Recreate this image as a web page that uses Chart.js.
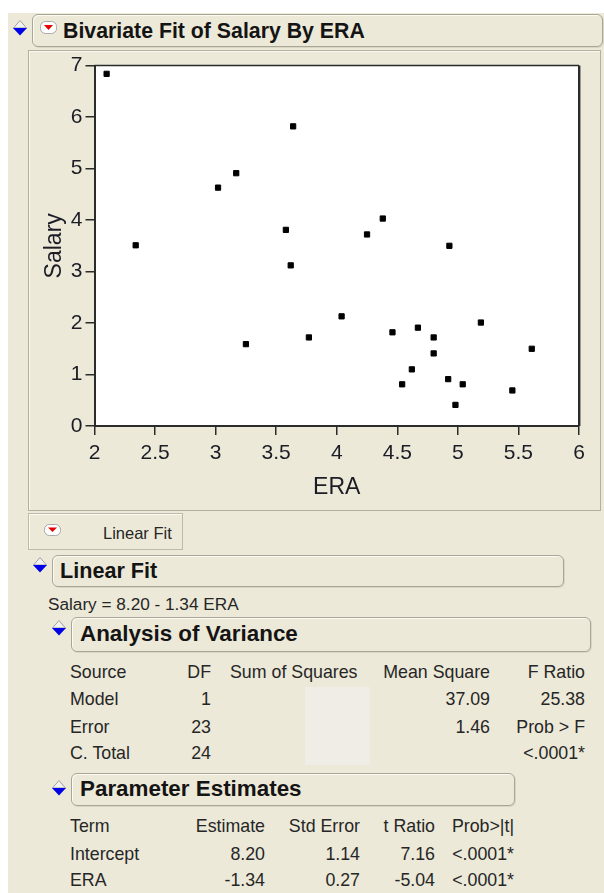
<!DOCTYPE html>
<html>
<head>
<meta charset="utf-8">
<title>Bivariate Fit of Salary By ERA</title>
<script src="https://cdn.jsdelivr.net/npm/chart.js@4.4.0/dist/chart.umd.min.js"></script>
<style>
  html, body { margin: 0; padding: 0; background: #fff; }
  #page { position: relative; width: 604px; height: 893px; overflow: hidden; background: #fff;
          font-family: "Liberation Sans", Arial, sans-serif; color: #262626; }
  #report { position: absolute; left: 8px; top: 13px; width: 596px; height: 880px; background: #ECE9D8; }
  .box { position: absolute; box-sizing: border-box; border: 1px solid #a9a694; border-radius: 6px;
         background: #ECE9D8; box-shadow: inset 1px 1px 0 #fbfaf4, 1px 1px 0 #d9d6c6; }
  .head { position: absolute; font-weight: bold; font-size: 21px; line-height: 24px; color: #141414; white-space: nowrap; }
  .t { position: absolute; font-size: 17.8px; line-height: 20px; white-space: nowrap; }
  .r { text-align: right; }
  .icon { position: absolute; }
  #frame { position: absolute; left: 28px; top: 50px; width: 573px; height: 461px; box-sizing: border-box;
           border: 1px solid #b3b0a0; box-shadow: inset 1px 1px 0 #f8f7f0; }
  #chartWrap { position: absolute; left: 28px; top: 50px; width: 573px; height: 461px; }
  #btn { position: absolute; left: 28px; top: 513px; width: 155px; height: 37px; box-sizing: border-box;
         border: 1px solid #bdbaaa; box-shadow: inset 1px 1px 0 #faf9f2; }
  #blank { position: absolute; left: 305px; top: 687px; width: 65px; height: 78px; background: #efede5; }
</style>
</head>
<body>
<div id="page">
  <div id="report"></div>

  <!-- outline header -->
  <svg class="icon" style="left:13px;top:20px" width="14" height="16" viewBox="0 0 14 16">
    <polygon points="0.5,8 7,0.5 13.5,8" fill="#f2f2f2" stroke="#a0a0a0" stroke-width="1"/>
    <polygon points="0,8 14,8 7,15.5" fill="#0000e6"/>
  </svg>
  <div class="box" style="left:32px;top:14px;width:571px;height:33px"></div>
  <svg class="icon" style="left:40px;top:21px" width="17" height="13" viewBox="0 0 17 13">
    <rect x="0.5" y="0.5" width="16" height="12" rx="5" fill="#fff" stroke="#a8a8a8"/>
    <polygon points="4,4 13,4 8.5,9" fill="#e60000"/>
  </svg>
  <div class="head" style="left:63px;top:19px;font-size:21.3px">Bivariate Fit of Salary By ERA</div>

  <!-- plot frame -->
  <div id="frame"></div>
  <div id="chartWrap"><canvas id="scatterChart" width="573" height="461"></canvas></div>

  <!-- fit button -->
  <div id="btn"></div>
  <svg class="icon" style="left:44px;top:524px" width="17" height="12" viewBox="0 0 17 12">
    <rect x="0.5" y="0.5" width="16" height="11" rx="5" fill="#fff" stroke="#a8a8a8"/>
    <polygon points="4,3.5 13,3.5 8.5,8" fill="#e60000"/>
  </svg>
  <div class="t" style="left:103px;top:523px;font-size:16.5px">Linear Fit</div>

  <!-- Linear Fit -->
  <svg class="icon" style="left:33px;top:557px" width="14" height="16" viewBox="0 0 14 16">
    <polygon points="0.5,8 7,0.5 13.5,8" fill="#f2f2f2" stroke="#a0a0a0" stroke-width="1"/>
    <polygon points="0,8 14,8 7,15.5" fill="#0000e6"/>
  </svg>
  <div class="box" style="left:52px;top:555px;width:512px;height:32px"></div>
  <div class="head" style="left:60px;top:559px;font-size:21.6px">Linear Fit</div>
  <div class="t" style="left:48px;top:594px;font-size:17.2px">Salary = 8.20 - 1.34 ERA</div>

  <!-- Analysis of Variance -->
  <svg class="icon" style="left:52px;top:620px" width="14" height="16" viewBox="0 0 14 16">
    <polygon points="0.5,8 7,0.5 13.5,8" fill="#f2f2f2" stroke="#a0a0a0" stroke-width="1"/>
    <polygon points="0,8 14,8 7,15.5" fill="#0000e6"/>
  </svg>
  <div class="box" style="left:71px;top:617px;width:520px;height:35px"></div>
  <div class="head" style="left:80px;top:622px;font-size:22.4px">Analysis of Variance</div>
  <div id="blank"></div>

  <!-- Parameter Estimates -->
  <svg class="icon" style="left:52px;top:780px" width="14" height="16" viewBox="0 0 14 16">
    <polygon points="0.5,8 7,0.5 13.5,8" fill="#f2f2f2" stroke="#a0a0a0" stroke-width="1"/>
    <polygon points="0,8 14,8 7,15.5" fill="#0000e6"/>
  </svg>
  <div class="box" style="left:71px;top:773px;width:444px;height:33px"></div>
  <div class="head" style="left:80px;top:777px;font-size:22.4px">Parameter Estimates</div>
</div>

<script>
// Scatter data
const era = [2.10, 2.34, 3.02, 3.17, 3.64, 3.58, 4.38, 4.25, 4.93, 3.62, 3.25, 3.77, 4.04,
             4.46, 4.67, 4.80, 4.80, 5.19, 5.61, 4.62, 4.54, 4.92, 5.04, 5.45, 4.98];
const salary = [6.84, 3.51, 4.63, 4.91, 5.82, 3.81, 4.03, 3.72, 3.50, 3.12, 1.59, 1.72, 2.13,
                1.82, 1.91, 1.72, 1.41, 2.01, 1.50, 1.10, 0.81, 0.91, 0.81, 0.69, 0.41];

// Axis ticks
const xTicks = [2, 2.5, 3, 3.5, 4, 4.5, 5, 5.5, 6];
const yTicks = [0, 1, 2, 3, 4, 5, 6, 7];

// Report tables
const anovaHeader = ['Source', 'DF', 'Sum of Squares', 'Mean Square', 'F Ratio'];
const anovaSource = ['Model', 'Error', 'C. Total'];
const anovaDF = ['1', '23', '24'];
const anovaMeanSq = ['37.09', '1.46', ''];
const anovaLast = ['25.38', 'Prob > F', '<.0001*'];

const paramHeader = ['Term', 'Estimate', 'Std Error', 't Ratio', 'Prob>|t|'];
const paramTerm = ['Intercept', 'ERA'];
const paramEstimate = ['8.20', '-1.34'];
const paramStdErr = ['1.14', '0.27'];
const paramTRatio = ['7.16', '-5.04'];
const paramProb = ['<.0001*', '<.0001*'];

// Build tables as real text
function addText(parent, text, x, yCenter, alignRight) {
    const d = document.createElement('div');
    d.className = 't' + (alignRight ? ' r' : '');
    d.textContent = text;
    d.style.top = (yCenter - 10) + 'px';
    if (alignRight) d.style.right = (604 - x) + 'px';
    else d.style.left = x + 'px';
    parent.appendChild(d);
}

const page = document.getElementById('page');
const anovaRows = [672, 699, 727, 753];
addText(page, anovaHeader[0], 70, anovaRows[0], false);
addText(page, anovaHeader[1], 211, anovaRows[0], true);
addText(page, anovaHeader[2], 230, anovaRows[0], false);
addText(page, anovaHeader[3], 490, anovaRows[0], true);
addText(page, anovaHeader[4], 585, anovaRows[0], true);
anovaSource.forEach((s, i) => {
    const y = anovaRows[i + 1];
    addText(page, s, 70, y, false);
    addText(page, anovaDF[i], 211, y, true);
    if (anovaMeanSq[i]) addText(page, anovaMeanSq[i], 490, y, true);
    addText(page, anovaLast[i], 585, y, true);
});

const paramRows = [826, 854, 880];
const paramRight = [265, 360, 435, 514];
addText(page, paramHeader[0], 70, paramRows[0], false);
paramHeader.slice(1).forEach((h, j) => addText(page, h, paramRight[j], paramRows[0], true));
paramTerm.forEach((t, i) => {
    const y = paramRows[i + 1];
    addText(page, t, 70, y, false);
    [paramEstimate, paramStdErr, paramTRatio, paramProb].forEach((col, j) => addText(page, col[i], paramRight[j], y, true));
});

// Plot area background and frame lines
const plotFrame = {
    id: 'plotFrame',
    beforeDraw(chart) {
        const { ctx, chartArea: a } = chart;
        ctx.save();
        ctx.fillStyle = '#ffffff';
        ctx.fillRect(a.left, a.top, a.right - a.left, a.bottom - a.top);
        ctx.restore();
    },
    afterDraw(chart) {
        const { ctx, chartArea: a } = chart;
        ctx.save();
        ctx.strokeStyle = '#2b2b2b';
        ctx.lineWidth = 1.5;
        ctx.beginPath();
        ctx.moveTo(a.left, a.top);
        ctx.lineTo(a.right, a.top);
        ctx.stroke();
        ctx.lineWidth = 2;
        ctx.beginPath();
        ctx.moveTo(a.right, a.top);
        ctx.lineTo(a.right, a.bottom);
        ctx.stroke();
        ctx.strokeStyle = '#9a9a9a';
        ctx.lineWidth = 1;
        ctx.beginPath();
        ctx.moveTo(a.right + 1.5, a.top);
        ctx.lineTo(a.right + 1.5, a.bottom);
        ctx.stroke();
        ctx.restore();
    }
};

const tickColor = '#1c1c26';
const ctx = document.getElementById('scatterChart').getContext('2d');
const scatterChart = new Chart(ctx, {
    type: 'scatter',
    data: {
        datasets: [{
            data: era.map((x, i) => ({ x: x, y: salary[i] })),
            pointStyle: 'rect',
            radius: 3.7,
            borderWidth: 1,
            backgroundColor: '#000',
            borderColor: '#000'
        }]
    },
    options: {
        responsive: false,
        animation: false,
        devicePixelRatio: 1,
        layout: { padding: { left: 0, top: 14, right: 22, bottom: 0 } },
        plugins: { legend: { display: false }, tooltip: { enabled: false } },
        scales: {
            x: {
                type: 'linear',
                min: 2,
                max: 6,
                afterBuildTicks: s => { s.ticks = xTicks.map(v => ({ value: v })); },
                afterFit: s => { s.height = 85; },
                ticks: { color: tickColor, font: { family: 'Liberation Sans', size: 21 }, padding: 6, maxRotation: 0,
                         callback: v => String(v) },
                grid: { drawOnChartArea: false, drawTicks: true, tickLength: 9, color: '#2b2b2b', lineWidth: 1.5 },
                border: { display: true, color: '#2b2b2b', width: 2 },
                title: { display: true, text: 'ERA', color: tickColor, font: { family: 'Liberation Sans', size: 23 }, padding: { top: 0, bottom: 10 } }
            },
            y: {
                type: 'linear',
                min: 0,
                max: 7,
                afterBuildTicks: s => { s.ticks = yTicks.map(v => ({ value: v })); },
                afterFit: s => { s.width = 66.5; },
                ticks: { color: tickColor, font: { family: 'Liberation Sans', size: 21 }, padding: 3,
                         callback: v => String(v) },
                grid: { drawOnChartArea: false, drawTicks: true, tickLength: 9, color: '#2b2b2b', lineWidth: 1.5 },
                border: { display: true, color: '#2b2b2b', width: 2 },
                title: { display: true, text: 'Salary', color: tickColor, font: { family: 'Liberation Sans', size: 23 }, padding: { top: 13, bottom: 0 } }
            }
        }
    },
    plugins: [plotFrame]
});
</script>
</body>
</html>
